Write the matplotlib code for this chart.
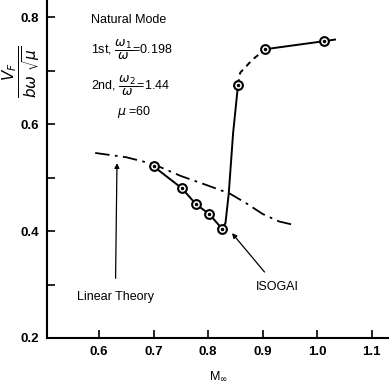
import matplotlib
matplotlib.use("Agg")
import matplotlib.pyplot as plt

plt.rcParams['font.family'] = ['Liberation Sans', 'DejaVu Sans']
plt.rcParams['mathtext.fontset'] = 'dejavusans'

# ISOGAI data points
isogai_m = [0.70, 0.752, 0.778, 0.802, 0.826, 0.855, 0.905, 1.013]
isogai_v = [0.521, 0.480, 0.450, 0.432, 0.404, 0.673, 0.740, 0.755]

# ISOGAI connecting curve (solid low branch)
low_m = [0.70, 0.752, 0.778, 0.802, 0.826, 0.832, 0.838, 0.846, 0.855]
low_v = [0.521, 0.480, 0.450, 0.432, 0.404, 0.415, 0.470, 0.583, 0.673]
# dashed transition
mid_m = [0.855, 0.859, 0.881, 0.905]
mid_v = [0.673, 0.696, 0.720, 0.740]
# solid upper branch
high_m = [0.905, 1.013, 1.033]
high_v = [0.740, 0.755, 0.758]

# Linear theory (dash-dot)
lin_m = [0.593, 0.65, 0.70, 0.75, 0.80, 0.84, 0.87, 0.90, 0.93, 0.955]
lin_v = [0.546, 0.538, 0.525, 0.503, 0.485, 0.470, 0.452, 0.432, 0.418, 0.412]

fig = plt.figure(figsize=(3.89, 3.85), dpi=100)
ax = fig.add_axes([47/389, 1-338/385, 1-47/389, 338/385])

ax.plot(low_m, low_v, color='black', lw=1.4)
ax.plot(mid_m, mid_v, color='black', lw=1.4, ls=(0, (3, 2.5)))
ax.plot(high_m, high_v, color='black', lw=1.4)
ax.plot(lin_m, lin_v, color='black', lw=1.3, ls=(0, (8, 3, 1.5, 3)))
ax.plot(isogai_m, isogai_v, ls='none', marker='o', ms=6.3, mfc='white',
        mec='black', mew=1.5)
ax.plot(isogai_m, isogai_v, ls='none', marker='o', ms=1.5, color='black')

ax.set_xlim(0.5046, 1.132)
ax.set_ylim(0.2, 0.832)
ax.set_xticks([0.6, 0.7, 0.8, 0.9, 1.0, 1.1])
ax.set_xticklabels(['0.6', '0.7', '0.8', '0.9', '1.0', '1.1'])
ax.set_yticks([0.2, 0.3, 0.4, 0.5, 0.6, 0.7, 0.8])
ax.set_yticklabels(['0.2', '', '0.4', '', '0.6', '', '0.8'])
ax.tick_params(direction='in', length=6, width=1.2, labelsize=9.5, pad=6)
for lab in ax.get_xticklabels() + ax.get_yticklabels():
    lab.set_fontweight('bold')
for s in ['top', 'right']:
    ax.spines[s].set_visible(False)
for s in ['left', 'bottom']:
    ax.spines[s].set_linewidth(1.5)

ax.set_xlabel(r'M$_\infty$', fontsize=9, labelpad=8)
fig.text(21/389, 1-72/385, r'$\dfrac{V_F}{b\omega\ \sqrt{\mu}}$', rotation=90,
         ha='center', va='center', fontsize=11)

fs = 9
ax.text(0.585, 0.794, 'Natural Mode', fontsize=fs, va='center')
ax.text(0.585, 0.738, r'1st, $\dfrac{\omega_1}{\omega}$=0.198', fontsize=fs, va='center')
ax.text(0.585, 0.671, r'2nd, $\dfrac{\omega_2}{\omega}$=1.44', fontsize=fs, va='center')
ax.text(0.633, 0.622, r'$\mu$ =60', fontsize=fs, va='center')

ax.annotate('Linear Theory', xy=(0.633, 0.527), xytext=(0.63, 0.277),
            ha='center', va='center', fontsize=fs,
            arrowprops=dict(arrowstyle='-|>', color='black', lw=0.9,
                            shrinkA=7, shrinkB=0, mutation_scale=7))
ax.annotate('ISOGAI', xy=(0.844, 0.396), xytext=(0.927, 0.295),
            ha='center', va='center', fontsize=fs,
            arrowprops=dict(arrowstyle='-|>', color='black', lw=0.9,
                            shrinkA=6, shrinkB=0, mutation_scale=7))

fig.savefig('out.png', dpi=100)
